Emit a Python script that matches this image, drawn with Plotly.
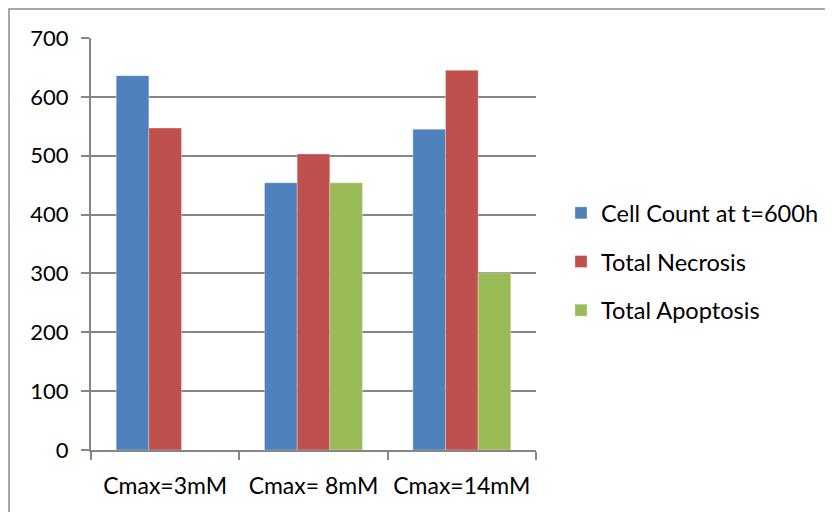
import plotly.graph_objects as go

categories = ["Cmax=3mM", "Cmax= 8mM", "Cmax=14mM"]
cell_count = [636, 454, 545]
total_necrosis = [547, 503, 645]
total_apoptosis = [None, 454, 301]
y_ticks = [0, 100, 200, 300, 400, 500, 600, 700]

series_names = ["Cell Count at t=600h", "Total Necrosis", "Total Apoptosis"]
colors = ["#4F81BD", "#C0504D", "#9BBB59"]

FONT = "Lato, 'Open Sans', sans-serif"

fig = go.Figure()
for name, vals, col in zip(series_names, [cell_count, total_necrosis, total_apoptosis], colors):
    fig.add_trace(go.Bar(
        x=categories, y=vals, name=name, legendgroup=name,
        marker=dict(color=col, line=dict(width=0.5, color="rgba(255,255,255,0.6)")),
    ))

# page body adds an 8px offset, so the figure is 8px smaller
W, H = 825, 504
L, T = 83, 30
pw, ph = 445, 412
R = W - L - pw
B = H - T - ph

fig.update_layout(
    width=W, height=H,
    margin=dict(l=L, r=R, t=T, b=B, pad=0, autoexpand=False),
    paper_bgcolor="white", plot_bgcolor="white",
    barmode="group", bargap=0.34, bargroupgap=0,
    font=dict(family=FONT, size=23, color="black"),
    showlegend=True,
    legend=dict(
        x=(553 - L) / pw, xanchor="left", y=(T + ph - 254) / ph, yanchor="middle",
        font=dict(family=FONT, size=23.6, color="black"),
        tracegroupgap=15, itemwidth=30, bgcolor="rgba(0,0,0,0)",
    ),
    xaxis=dict(
        showline=True, linecolor="#868686", linewidth=2,
        ticks="outside", ticklen=8, tickcolor="#868686", tickwidth=2,
        tickson="boundaries", showgrid=False, tickangle=0,
        ticklabelstandoff=14,
        tickfont=dict(family=FONT, size=23, color="black"),
    ),
    yaxis=dict(
        range=[0, 700], tickvals=y_ticks,
        showline=True, linecolor="#868686", linewidth=2,
        ticks="outside", ticklen=8, tickcolor="#868686", tickwidth=2,
        showgrid=True, gridcolor="#868686", gridwidth=1.5,
        zeroline=False, ticklabelstandoff=8,
        tickfont=dict(family=FONT, size=22, color="black"),
    ),
    shapes=[dict(
        type="rect", xref="paper", yref="paper",
        x0=(1 - L) / pw, x1=(W + 20 - L) / pw,
        y0=(T + ph - (H + 20)) / ph, y1=(T + ph - 1) / ph,
        line=dict(color="#8C8C8C", width=1.5), fillcolor="rgba(0,0,0,0)", layer="below",
    )],
)

fig.write_html("out.html")
